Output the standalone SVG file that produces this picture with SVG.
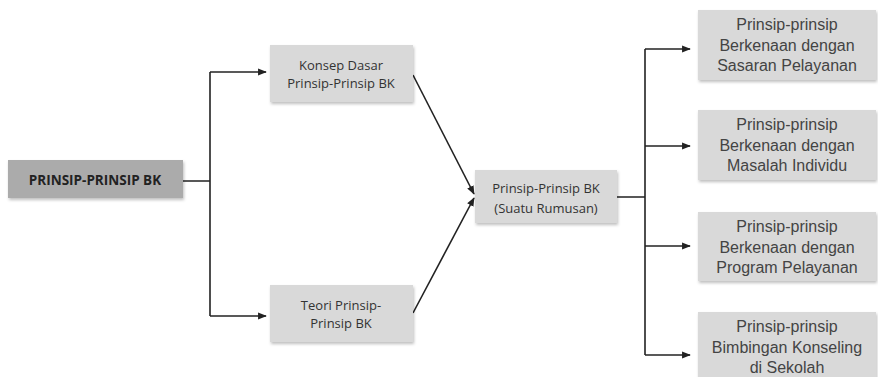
<svg xmlns="http://www.w3.org/2000/svg" width="878" height="377" viewBox="0 0 878 377">
<defs>
<marker id="ah" viewBox="0 0 10 10" refX="9" refY="5" markerWidth="5.5" markerHeight="5.5" orient="auto"><path d="M0,1 L10,5 L0,9 z" fill="#222"/></marker>
<filter id="sh" x="-10%" y="-10%" width="130%" height="140%"><feDropShadow dx="1" dy="2" stdDeviation="1.5" flood-color="#000" flood-opacity="0.25"/></filter>
</defs>
<style>
.b{fill:#d9d9d9;filter:url(#sh)}
.r{fill:#ababab;filter:url(#sh)}
.t{font-family:"Open Sans","DejaVu Sans",sans-serif;font-size:13px;fill:#333;text-anchor:middle}
.tb{font-family:"Open Sans","DejaVu Sans",sans-serif;font-size:13.5px;font-weight:bold;fill:#222;text-anchor:middle}
.a{font-family:"Liberation Sans",Arial,sans-serif;font-size:16px;fill:#444;text-anchor:middle}
.c{fill:none;stroke:#222;stroke-width:1.6}
</style>
<rect width="878" height="377" fill="#fff"/>
<g id="connectors">
<path class="c" d="M183,181 H210 M210,72 V316"/>
<path class="c" d="M210,72 H266" marker-end="url(#ah)"/>
<path class="c" d="M210,316 H266" marker-end="url(#ah)"/>
<path class="c" d="M413,75 L474,194" marker-end="url(#ah)"/>
<path class="c" d="M413,313 L474,198" marker-end="url(#ah)"/>
<path class="c" d="M617,197 H645 M645,49 V355"/>
<path class="c" d="M645,49 H690" marker-end="url(#ah)"/>
<path class="c" d="M645,146 H690" marker-end="url(#ah)"/>
<path class="c" d="M645,246 H690" marker-end="url(#ah)"/>
<path class="c" d="M645,355 H690" marker-end="url(#ah)"/>
</g>
<g id="root">
<rect class="r" x="8" y="160" width="175" height="38"/>
<text class="tb" x="95" y="185">PRINSIP-PRINSIP BK</text>
</g>
<g id="konsep">
<rect class="b" x="270" y="45" width="143" height="57"/>
<text class="t" x="341" y="70">Konsep Dasar</text>
<text class="t" x="341" y="88">Prinsip-Prinsip BK</text>
</g>
<g id="teori">
<rect class="b" x="270" y="285" width="143" height="57"/>
<text class="t" x="341" y="310">Teori Prinsip-</text>
<text class="t" x="341" y="328">Prinsip BK</text>
</g>
<g id="rumusan">
<rect class="b" x="475" y="170" width="142" height="53"/>
<text class="t" x="546" y="193">Prinsip-Prinsip BK</text>
<text class="t" x="546" y="213">(Suatu Rumusan)</text>
</g>
<g id="sasaran">
<rect class="b" x="698" y="10" width="178" height="70"/>
<text class="a" x="787" y="30">Prinsip-prinsip</text>
<text class="a" x="787" y="50.5">Berkenaan dengan</text>
<text class="a" x="787" y="71">Sasaran Pelayanan</text>
</g>
<g id="masalah">
<rect class="b" x="698" y="110" width="178" height="70"/>
<text class="a" x="787" y="130">Prinsip-prinsip</text>
<text class="a" x="787" y="150.5">Berkenaan dengan</text>
<text class="a" x="787" y="171">Masalah Individu</text>
</g>
<g id="program">
<rect class="b" x="698" y="212" width="178" height="69"/>
<text class="a" x="787" y="232">Prinsip-prinsip</text>
<text class="a" x="787" y="252.5">Berkenaan dengan</text>
<text class="a" x="787" y="273">Program Pelayanan</text>
</g>
<g id="sekolah">
<rect class="b" x="698" y="312" width="178" height="70"/>
<text class="a" x="787" y="332">Prinsip-prinsip</text>
<text class="a" x="787" y="352.5">Bimbingan Konseling</text>
<text class="a" x="787" y="373">di Sekolah</text>
</g>
</svg>
